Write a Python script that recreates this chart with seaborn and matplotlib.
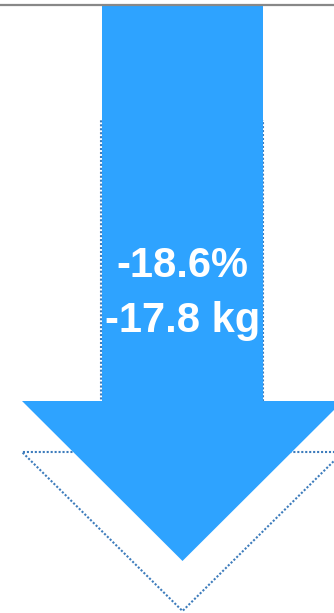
import matplotlib
matplotlib.use("Agg")
import matplotlib.pyplot as plt
import seaborn as sns
import pandas as pd

# Data
pct_change = [-18.6]
kg_change = [-17.8]
labels = [f"{pct_change[0]:.1f}%", f"{kg_change[0]:.1f} kg"]

sns.set_style("white")
plt.rcParams['font.family'] = ['Liberation Sans', 'DejaVu Sans']

W, H = 334, 613
fig = plt.figure(figsize=(W / 100, H / 100), dpi=100)
ax = fig.add_axes([0, 0, 1, 1])
ax.set_xlim(0, W)
ax.set_ylim(H, 0)
ax.axis("off")

# dotted outline arrow (behind)
outline = pd.DataFrame({
    "x": [263, 101, 101, 22, 182.5, 343, 263, 263],
    "y": [120, 120, 452, 452, 611, 452, 452, 120],
})
sns.lineplot(data=outline, x="x", y="y", sort=False, estimator=None, ax=ax,
             color="#3D7CBC", lw=1.5, linestyle=(0, (1, 0.9)), zorder=1)

# solid arrow
ax.fill([102, 102, 22, 182.5, 343, 263, 263],
        [6, 401, 401, 561, 401, 401, 6],
        color="#2EA3FF", lw=0, zorder=2)

# top gray line
ax.plot([0, W], [5, 5], color="#888888", lw=1.6, zorder=3)

ax.text(182.5, 277, labels[0], color="white", fontsize=30, fontweight="bold",
        ha="center", va="baseline", zorder=4)
ax.text(182.5, 332, labels[1], color="white", fontsize=30, fontweight="bold",
        ha="center", va="baseline", zorder=4)

ax.set_xlabel("")
ax.set_ylabel("")
if ax.get_legend():
    ax.get_legend().remove()
fig.savefig("out.png", dpi=100)
